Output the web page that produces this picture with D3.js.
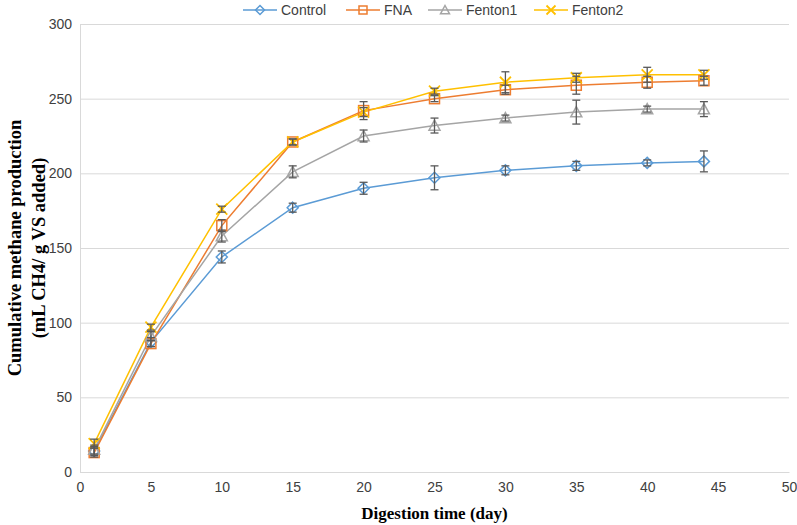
<!DOCTYPE html>
<html><head><meta charset="utf-8">
<script src="https://cdn.jsdelivr.net/npm/d3@7"></script>
<style>body{margin:0;background:#fff;}svg{display:block;}</style>
</head><body>
<script>
const days = [1, 5, 10, 15, 20, 25, 30, 35, 40, 44];
const seriesNames = ["Control", "FNA", "Fenton1", "Fenton2"];
const control = [14, 87, 144, 177, 190, 197, 202, 205, 207, 208];
const fna = [13, 86, 165, 221, 242, 250, 256, 259, 261, 262];
const fenton1 = [15, 91, 158, 201, 225, 232, 237, 241, 243, 243];
const fenton2 = [19, 97, 176, 221, 241, 255, 261, 264, 266, 266];
const controlErr = [3, 3, 4, 3, 4, 8, 3, 3, 2, 7];
const fnaErr = [3, 2, 4, 2, 6, 2, 3, 6, 4, 3];
const fenton1Err = [3, 3, 4, 4, 4, 5, 2, 8, 2, 5];
const fenton2Err = [3, 2, 2, 2, 3, 2, 7, 3, 5, 3];
const xTicks = [0, 5, 10, 15, 20, 25, 30, 35, 40, 45, 50];
const yTicks = [0, 50, 100, 150, 200, 250, 300];

const W = 797, H = 525;
const m = {left: 80, right: 8, top: 24, bottom: 53};
const svg = d3.select("body").append("svg").attr("width", W).attr("height", H);
const x = d3.scaleLinear().domain([0, 50]).range([m.left, W - m.right]);
const y = d3.scaleLinear().domain([0, 300]).range([H - m.bottom, m.top]);

const series = [
  {name: "Control", vals: control, err: controlErr, color: "#5B9BD5", shape: "diamond"},
  {name: "FNA", vals: fna, err: fnaErr, color: "#ED7D31", shape: "square"},
  {name: "Fenton1", vals: fenton1, err: fenton1Err, color: "#A5A5A5", shape: "triangle"},
  {name: "Fenton2", vals: fenton2, err: fenton2Err, color: "#FFC000", shape: "x"}
];

const yAxis = d3.axisLeft(y).tickValues(yTicks).tickSize(-(W - m.left - m.right)).tickPadding(8);
const gy = svg.append("g").attr("transform", `translate(${m.left},0)`).call(yAxis);
gy.select(".domain").attr("stroke", "#D9D9D9");
gy.selectAll(".tick line").attr("stroke", "#D9D9D9").attr("stroke-width", 1);
gy.selectAll(".tick text").attr("fill", "#404040").style("font-family", "Liberation Sans, Arial, sans-serif").style("font-size", "14px");

const xAxis = d3.axisBottom(x).tickValues(xTicks).tickSize(0).tickPadding(10);
const gx = svg.append("g").attr("transform", `translate(0,${H - m.bottom})`).call(xAxis);
gx.select(".domain").attr("stroke", "#D9D9D9");
gx.selectAll(".tick text").attr("fill", "#404040").style("font-family", "Liberation Sans, Arial, sans-serif").style("font-size", "14px");

function marker(g, shape, color, s) {
  if (shape === "diamond") {
    g.append("path").attr("d", `M0,${-s}L${s},0L0,${s}L${-s},0Z`).attr("fill", "none").attr("stroke", color).attr("stroke-width", 1.5);
  } else if (shape === "square") {
    g.append("rect").attr("x", -s + 0.5).attr("y", -s + 0.5).attr("width", 2 * s - 1).attr("height", 2 * s - 1).attr("fill", "none").attr("stroke", color).attr("stroke-width", 1.5);
  } else if (shape === "triangle") {
    g.append("path").attr("d", `M0,${-s}L${s},${s * 0.85}L${-s},${s * 0.85}Z`).attr("fill", "none").attr("stroke", color).attr("stroke-width", 1.5);
  } else {
    g.append("path").attr("d", `M${-s},${-s}L${s},${s}M${s},${-s}L${-s},${s}`).attr("fill", "none").attr("stroke", color).attr("stroke-width", 1.8);
  }
}

const line = d3.line().x((d, i) => x(days[i])).y(d => y(d));
series.forEach(s => {
  svg.append("path").datum(s.vals).attr("d", line).attr("fill", "none").attr("stroke", s.color).attr("stroke-width", 1.5);
});
series.forEach(s => {
  s.vals.forEach((v, i) => {
    const g = svg.append("g").attr("transform", `translate(${x(days[i])},${y(v)})`);
    marker(g, s.shape, s.color, 5.5);
  });
});
series.forEach(s => {
  s.vals.forEach((v, i) => {
    const cx = x(days[i]), y1 = y(v + s.err[i]), y2 = y(v - s.err[i]);
    const g = svg.append("g").attr("stroke", "#595959").attr("stroke-width", 1.3);
    g.append("line").attr("x1", cx).attr("x2", cx).attr("y1", y1).attr("y2", y2);
    g.append("line").attr("x1", cx - 4).attr("x2", cx + 4).attr("y1", y1).attr("y2", y1);
    g.append("line").attr("x1", cx - 4).attr("x2", cx + 4).attr("y1", y2).attr("y2", y2);
  });
});

const legX = [243, 346, 428, 534];
series.forEach((s, i) => {
  const g = svg.append("g").attr("transform", `translate(${legX[i]},10)`);
  g.append("line").attr("x1", 0).attr("x2", 34).attr("stroke", s.color).attr("stroke-width", 1.5);
  const mg = g.append("g").attr("transform", "translate(17,0)");
  marker(mg, s.shape, s.color, 4.5);
  g.append("text").attr("x", 38).attr("y", 5).text(s.name)
    .style("font-family", "Liberation Sans, Arial, sans-serif").style("font-size", "14px").attr("fill", "#404040");
});

svg.append("text").attr("x", x(25)).attr("y", 519).attr("text-anchor", "middle")
  .style("font-family", "Liberation Serif, Times New Roman, serif").style("font-weight", "bold").style("font-size", "17px")
  .text("Digestion time (day)");
const yt = svg.append("text").attr("transform", `translate(0,${(m.top + H - m.bottom) / 2}) rotate(-90)`)
  .attr("text-anchor", "middle")
  .style("font-family", "Liberation Serif, Times New Roman, serif").style("font-weight", "bold").style("font-size", "18.5px");
yt.append("tspan").attr("x", 0).attr("y", 21).text("Cumulative methane production");
yt.append("tspan").attr("x", 0).attr("y", 45).text("(mL CH4/ g VS added)");
</script>
</body></html>
